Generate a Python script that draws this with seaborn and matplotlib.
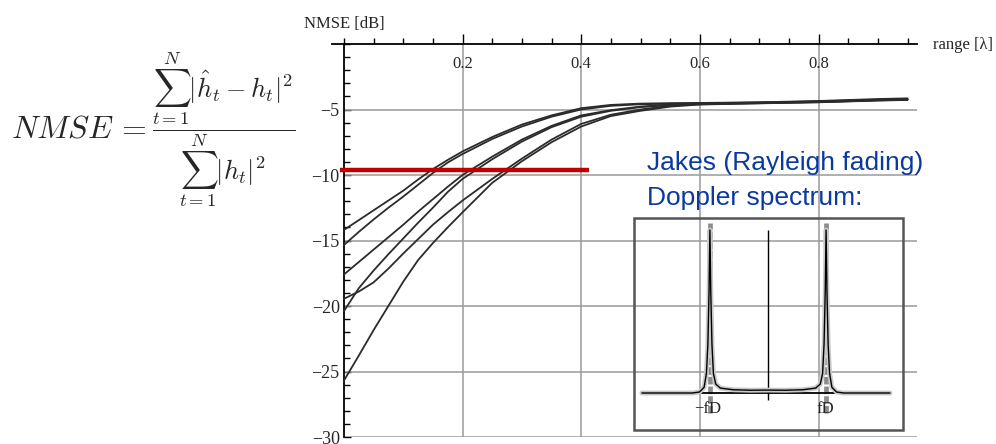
import numpy as np
import pandas as pd
import seaborn as sns
import matplotlib.pyplot as plt
from matplotlib.patches import Rectangle
from matplotlib.ticker import FixedLocator, MultipleLocator

range_pts = [0, 0.025, 0.05, 0.075, 0.1, 0.125, 0.15, 0.175, 0.2, 0.25, 0.3,
             0.35, 0.4, 0.45, 0.5, 0.55, 0.6, 0.7, 0.8, 0.9, 0.95]

# NMSE [dB], six curves
nmse_a = [-14.2, -13.45, -12.7, -11.95, -11.2, -10.35, -9.55, -8.85, -8.2, -7.1, -6.15,
          -5.45, -4.9, -4.65, -4.55, -4.52, -4.5, -4.45, -4.35, -4.2, -4.15]
nmse_b = [-15.35, -14.35, -13.4, -12.5, -11.65, -10.75, -9.85, -9.05, -8.4, -7.25, -6.3,
          -5.55, -5.0, -4.72, -4.6, -4.55, -4.52, -4.47, -4.38, -4.25, -4.2]
nmse_c = [-17.6, -16.65, -15.7, -14.75, -13.8, -12.8, -11.85, -10.9, -10.0, -8.6, -7.3,
          -6.25, -5.45, -5.05, -4.78, -4.62, -4.55, -4.48, -4.4, -4.27, -4.22]
nmse_d = [-19.45, -18.9, -18.2, -17.15, -16.0, -14.9, -13.8, -12.85, -11.95, -10.3, -8.75,
          -7.3, -6.1, -5.4, -5.0, -4.72, -4.6, -4.52, -4.44, -4.3, -4.25]
nmse_e = [-20.4, -18.65, -17.3, -16.05, -14.85, -13.65, -12.5, -11.3, -10.3, -8.8, -7.45,
          -6.35, -5.55, -5.1, -4.82, -4.65, -4.57, -4.5, -4.42, -4.28, -4.24]
nmse_f = [-25.7, -23.8, -21.85, -20.0, -18.15, -16.5, -15.2, -14.0, -12.85, -10.6, -8.95,
          -7.5, -6.3, -5.5, -5.1, -4.78, -4.62, -4.53, -4.45, -4.32, -4.27]

ref_level = -9.6
ref_span = [-0.007, 0.413]

x_major = [0.2, 0.4, 0.6, 0.8]
y_major = [-30, -25, -20, -15, -10, -5]

# Jakes Doppler spectrum sketch (inset), f in units of fD
spec_f = [-2.17, -1.3, -1.18, -1.1, -1.06, -1.035, -1.015, -1.0, -0.985, -0.965, -0.94, -0.9,
          -0.82, -0.6, -0.3, 0, 0.3, 0.6, 0.82, 0.9, 0.94, 0.965, 0.985, 1.0, 1.015, 1.035,
          1.06, 1.1, 1.18, 1.3, 2.1]
spec_s = [0, 0, 0.006, 0.035, 0.12, 0.3, 0.62, 1.0, 0.62, 0.3, 0.12, 0.055,
          0.03, 0.02, 0.017, 0.018, 0.017, 0.02, 0.03, 0.055, 0.12, 0.3, 0.62, 1.0, 0.62, 0.3,
          0.12, 0.035, 0.006, 0, 0]
fd_pos = [-1, 1]
fd_labels = ['\u2212fD', 'fD']

sns.set_style('white')
plt.rcParams['font.family'] = ['Liberation Serif', 'DejaVu Serif']
plt.rcParams['mathtext.fontset'] = 'cm'

fig = plt.figure(figsize=(9.96, 4.44), dpi=100)
ax = fig.add_axes([332 / 996, 7 / 444, 585 / 996, 393 / 444])

curves = {'a': nmse_a, 'b': nmse_b, 'c': nmse_c, 'd': nmse_d, 'e': nmse_e, 'f': nmse_f}
df = pd.concat([pd.DataFrame({'range': range_pts, 'nmse': v, 'curve': k}) for k, v in curves.items()],
               ignore_index=True)
sns.lineplot(data=df, x='range', y='nmse', units='curve', estimator=None, color='#2b2b2b',
             lw=1.3, ax=ax, legend=False, zorder=3)

ax.set_xlim(-0.02, 0.966)
ax.set_ylim(-30, 0)
ax.set_xlabel('')
ax.set_ylabel('')

ax.xaxis.set_major_locator(FixedLocator(x_major))
ax.xaxis.set_minor_locator(MultipleLocator(0.05))
ax.yaxis.set_major_locator(FixedLocator(y_major))
ax.yaxis.set_minor_locator(MultipleLocator(1))
ax.set_xticklabels([f'{v:.1f}' for v in x_major])

ax.grid(axis='x', which='major', color='#9a9a9a', lw=1.1)
ax.grid(axis='y', visible=False)
ax.hlines(y_major, 0, 0.966, color='#9a9a9a', lw=1.1, zorder=1)

for s in ['right', 'bottom']:
    ax.spines[s].set_visible(False)
ax.spines['left'].set_position(('data', 0))
for s in ['left', 'top']:
    ax.spines[s].set_color('black')
    ax.spines[s].set_linewidth(1.3)

ax.tick_params(axis='x', which='both', top=True, bottom=False, labeltop=True,
               labelbottom=False, direction='out', color='black', width=1)
ax.tick_params(axis='x', which='major', length=7, pad=-27, labelsize=12)
ax.tick_params(axis='x', which='minor', length=4)
ax.tick_params(axis='y', which='both', left=True, direction='in', color='black', width=1)
ax.tick_params(axis='y', which='major', length=5, pad=3, labelsize=13)
ax.tick_params(axis='y', which='minor', length=4)

ax.hlines(ref_level, ref_span[0], ref_span[1], color='#c00000', lw=3.2, zorder=5)

fig.text(344 / 996, 1 - 24 / 444, 'NMSE [dB]', ha='center', va='center', fontsize=12)
fig.text(933 / 996, 1 - 45 / 444, 'range [\u03bb]', ha='left', va='center', fontsize=12)

# formula
fig.text(11 / 996, 1 - 138 / 444, r'$NMSE\,=$', ha='left', va='baseline', fontsize=23)
fig.text(152 / 996, 1 - 129 / 444,
         r'$\dfrac{\sum_{t=1}^{N}|\hat{h}_t - h_t|^2}{\sum_{t=1}^{N}|h_t|^2}$',
         ha='left', va='center', fontsize=19)

blue = '#0b3a9e'
fig.text(647 / 996, 1 - 170 / 444, 'Jakes (Rayleigh fading)', ha='left', va='baseline',
         fontsize=19, color=blue, family=['Liberation Sans', 'DejaVu Sans'])
fig.text(647 / 996, 1 - 205 / 444, 'Doppler spectrum:', ha='left', va='baseline',
         fontsize=19, color=blue, family=['Liberation Sans', 'DejaVu Sans'])

# inset
ax2 = fig.add_axes([628 / 996, 10 / 444, 280 / 996, 224 / 444], facecolor='white')
ax2.set_xlim(-2.41, 2.41)
ax2.set_ylim(-0.2515, 1.1227)
ax2.set_axis_off()
ax2.patch.set_visible(True)
ax2.add_patch(Rectangle((0.021, 0.018), 0.961, 0.946, transform=ax2.transAxes, fill=False,
                        ec='#555555', lw=1.8))
ax2.vlines(fd_pos, -0.12, 1.04, colors='#8c8c8c', lw=3.4, linestyles=(0, (1.6, 0.45)), zorder=2)
ax2.vlines(0, -0.04, 1.0, color='black', lw=1, zorder=2)
ax2.hlines(0, -2.17, 2.1, color='black', lw=1.3, zorder=3)
sns.lineplot(x=spec_f, y=spec_s, ax=ax2, color='#c8c8c8', lw=3.5, zorder=3, sort=False)
sns.lineplot(x=spec_f, y=spec_s, ax=ax2, color='black', lw=1, zorder=4, sort=False)
for p, lab in zip(fd_pos, fd_labels):
    ax2.text(p - 0.04 if p < 0 else p - 0.02, -0.098, lab, ha='center', va='center',
             fontsize=12, zorder=6)

fig.savefig('out.png', dpi=100)
